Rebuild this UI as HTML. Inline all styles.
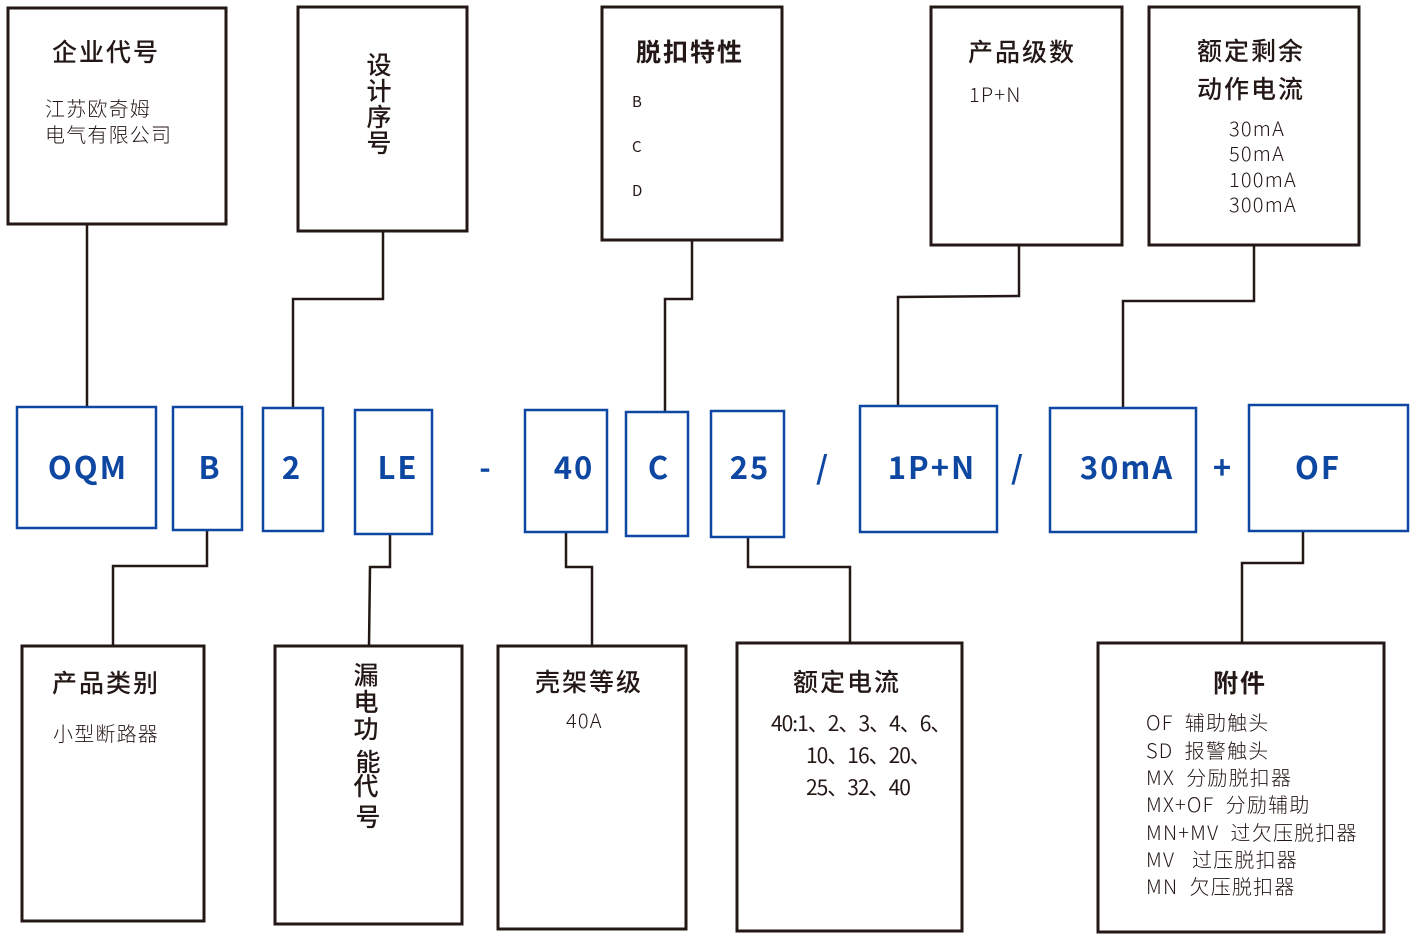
<!DOCTYPE html>
<html><head><meta charset="utf-8"><style>
html,body{margin:0;padding:0;background:#fff;}
svg{display:block;}
text{font-family:"Noto Sans CJK SC","Liberation Sans",sans-serif;fill:#231815;white-space:pre;}
.t{font-size:25px;font-weight:500;letter-spacing:2px;}
.s{font-size:20px;letter-spacing:1.2px;font-weight:300;}
.b{font-size:31px;font-weight:bold;fill:#0d47a1;letter-spacing:2px;}
</style></head><body>
<svg width="1421" height="947" viewBox="0 0 1421 947" xmlns="http://www.w3.org/2000/svg" xml:space="preserve">
<g fill="none" stroke="#231815" stroke-width="3">
<rect x="8" y="8" width="218" height="216"/>
<rect x="298" y="7" width="169" height="224"/>
<rect x="602" y="7" width="180" height="233"/>
<rect x="931" y="7" width="191" height="238"/>
<rect x="1149" y="7" width="210" height="238"/>
<rect x="22" y="646" width="182" height="275"/>
<rect x="275" y="646" width="187" height="278"/>
<rect x="498" y="646" width="188" height="283"/>
<rect x="737" y="643" width="225" height="288"/>
<rect x="1098" y="643" width="286" height="289"/>
</g>
<g fill="none" stroke="#231815" stroke-width="2.5">
<polyline points="87,224 87,407"/>
<polyline points="383,231 383,299 293,299 293,408"/>
<polyline points="692,240 692,299 665,299 665,412"/>
<polyline points="1019,245 1019,296 898,297 898,406"/>
<polyline points="1254,245 1254,301 1123,301 1123,408"/>
<polyline points="207,530 207,566 113,566 113,646"/>
<polyline points="390,534 390,567 370,567 369,646"/>
<polyline points="566,532 566,567 592,567 592,646"/>
<polyline points="748,537 748,567 850,567 850,643"/>
<polyline points="1303,531 1303,563 1242,563 1242,643"/>
</g>
<g fill="#fff" stroke="#0d47a1" stroke-width="2.5">
<rect x="17" y="407" width="139" height="121"/>
<rect x="173" y="407" width="69" height="123"/>
<rect x="263" y="408" width="60" height="123"/>
<rect x="355" y="410" width="77" height="124"/>
<rect x="525" y="410" width="82" height="122"/>
<rect x="626" y="412" width="62" height="124"/>
<rect x="711" y="411" width="73" height="126"/>
<rect x="860" y="406" width="137" height="126"/>
<rect x="1050" y="408" width="146" height="124"/>
<rect x="1249" y="405" width="159" height="126"/>
</g>
<g text-anchor="middle">
<text x="88" y="479" class="b">OQM</text>
<text x="210" y="479" class="b">B</text>
<text x="292" y="479" class="b">2</text>
<text x="398" y="479" class="b">LE</text>
<text x="486" y="479" class="b">-</text>
<text x="574" y="479" class="b">40</text>
<text x="659" y="479" class="b">C</text>
<text x="750" y="479" class="b">25</text>
<text x="823" y="479" class="b">/</text>
<text x="932" y="479" class="b">1P+N</text>
<text x="1018" y="479" class="b">/</text>
<text x="1127" y="479" class="b">30mA</text>
<text x="1223" y="479" class="b">+</text>
<text x="1318" y="479" class="b">OF</text>
</g>
<text class="t" x="52" y="61">企业代号</text>
<text class="s" x="45" y="116">江苏欧奇姆</text>
<text class="s" x="45" y="142">电气有限公司</text>
<g text-anchor="middle"><text class="t" x="380" y="74">设</text><text class="t" x="380" y="100">计</text><text class="t" x="380" y="126">序</text><text class="t" x="380" y="152">号</text></g>
<text class="t" x="636" y="61" style="font-weight:bold">脱扣特性</text>
<text x="632" y="107" style="font-size:15px">B</text>
<text x="632" y="152" style="font-size:15px">C</text>
<text x="632" y="196" style="font-size:15px">D</text>
<text class="t" x="968" y="61">产品级数</text>
<text class="s" x="969" y="102">1P+N</text>
<text class="t" x="1197" y="60">额定剩余</text>
<text class="t" x="1197" y="98">动作电流</text>
<text class="s" x="1229" y="136">30mA</text>
<text class="s" x="1229" y="161">50mA</text>
<text class="s" x="1229" y="187">100mA</text>
<text class="s" x="1229" y="212">300mA</text>
<text class="t" x="52" y="692">产品类别</text>
<text class="s" x="53" y="741">小型断路器</text>
<g text-anchor="middle"><text class="t" x="367" y="684">漏</text><text class="t" x="367" y="711">电</text><text class="t" x="367" y="738">功</text><text class="t" x="369" y="771">能</text><text class="t" x="367" y="795">代</text><text class="t" x="369" y="826">号</text></g>
<text class="t" x="535" y="691">壳架等级</text>
<text class="s" x="566" y="728">40A</text>
<text class="t" x="793" y="691">额定电流</text>
<text x="771" y="731" style="font-size:21px;letter-spacing:-1px">40:1、2、3、4、6、</text>
<text x="806" y="763" style="font-size:21px;letter-spacing:-1px">10、16、20、</text>
<text x="806" y="795" style="font-size:21px;letter-spacing:-1px">25、32、40</text>
<text class="t" x="1213" y="692" style="font-weight:bold">附件</text>
<text class="s" x="1146" y="730">OF  辅助触头</text>
<text class="s" x="1146" y="758">SD  报警触头</text>
<text class="s" x="1146" y="785">MX  分励脱扣器</text>
<text class="s" x="1146" y="812">MX+OF  分励辅助</text>
<text class="s" x="1146" y="840">MN+MV  过欠压脱扣器</text>
<text class="s" x="1146" y="867">MV   过压脱扣器</text>
<text class="s" x="1146" y="894">MN  欠压脱扣器</text>
</svg>
</body></html>
